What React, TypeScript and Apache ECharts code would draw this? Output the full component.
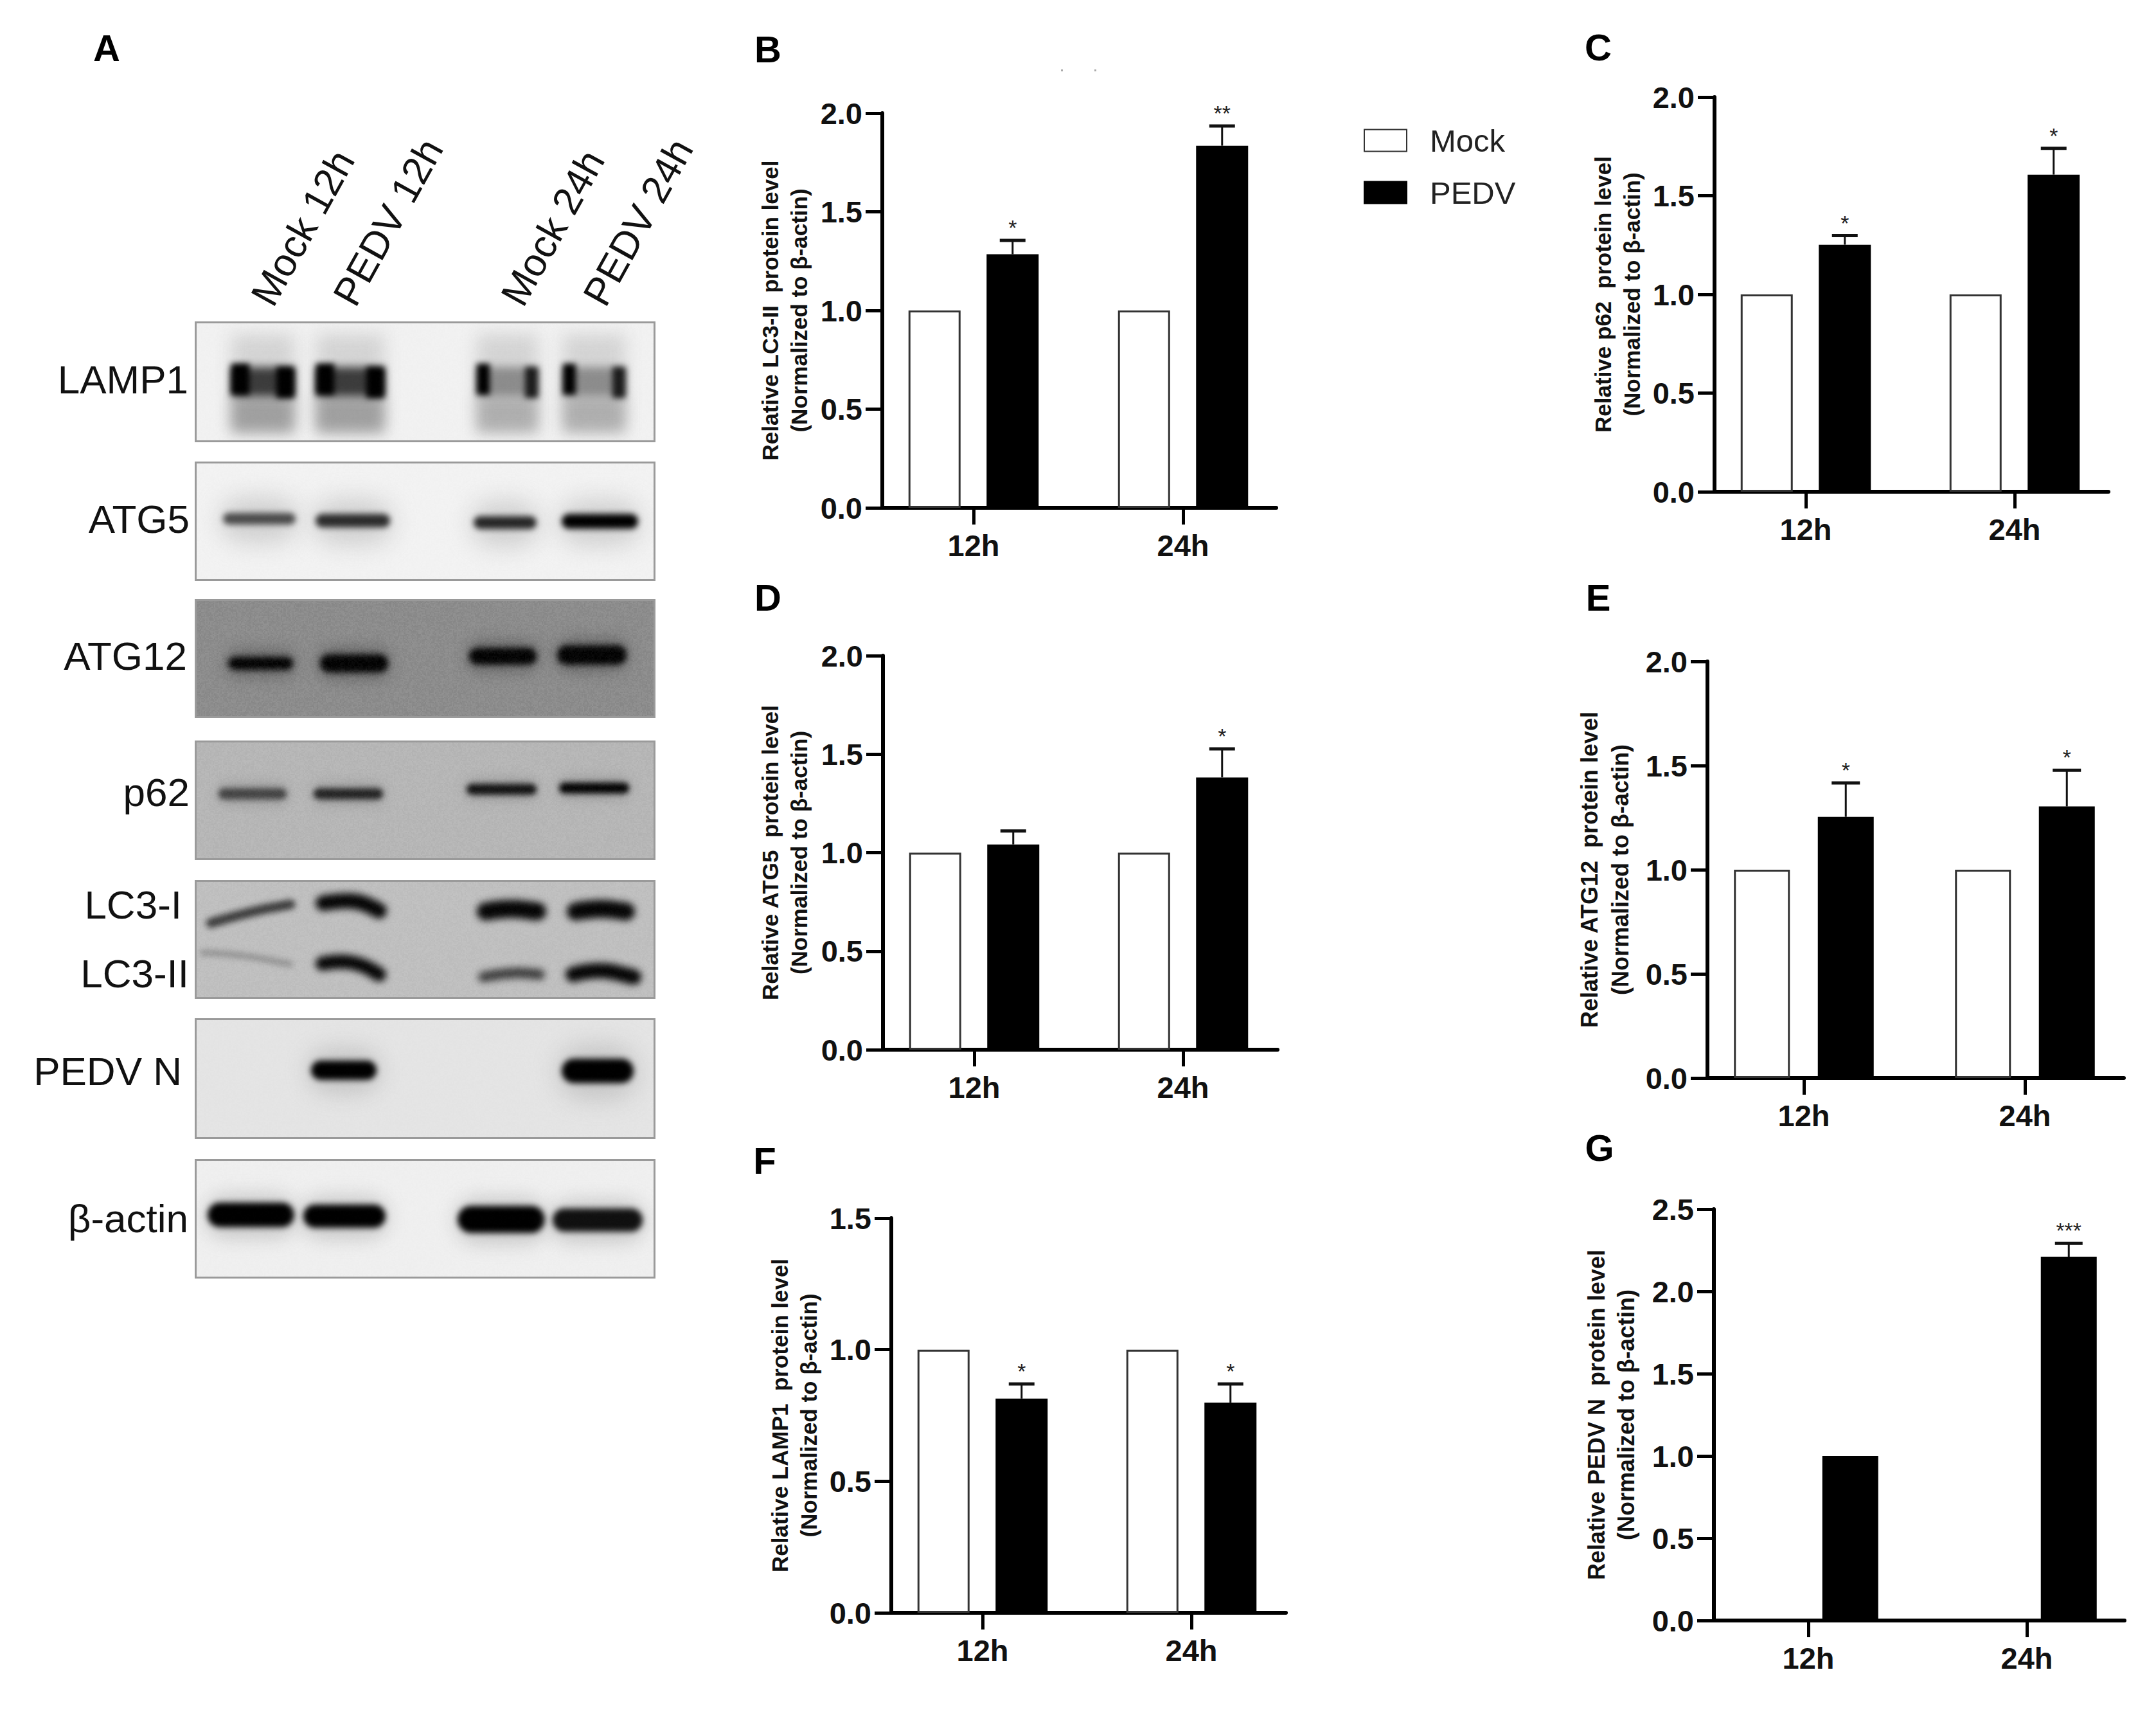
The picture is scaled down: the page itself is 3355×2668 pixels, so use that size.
import React, { useEffect, useRef } from "react";
import * as echarts from "echarts";

const FONT = '"Liberation Sans", Arial, sans-serif';
const categories = ["12h", "24h"];
const legendNames = ["Mock", "PEDV"];
const TITLE_LINE2 = "(Normalized to β-actin)";

// Panel values
const lc3Mock = [1, 1];
const lc3Pedv = [1.285, 1.835];
const lc3Err = [1.355, 1.935];
const lc3Sig = ["*", "**"];

const p62Mock = [1, 1];
const p62Pedv = [1.252, 1.607];
const p62Err = [1.298, 1.74];
const p62Sig = ["*", "*"];

const atg5Mock = [1, 1];
const atg5Pedv = [1.042, 1.382];
const atg5Err = [1.11, 1.527];
const atg5Sig = ["", "*"];

const atg12Mock = [1, 1];
const atg12Pedv = [1.254, 1.304];
const atg12Err = [1.417, 1.478];
const atg12Sig = ["*", "*"];

const lamp1Mock = [1, 1];
const lamp1Pedv = [0.814, 0.799];
const lamp1Err = [0.87, 0.87];
const lamp1Sig = ["*", "*"];

const pedvMock = [0, 0];
const pedvPedv = [1.0, 2.211];
const pedvErr = [1.0, 2.292];
const pedvSig = ["", "***"];

const blotLanes = ["Mock 12h", "PEDV 12h", "Mock 24h", "PEDV 24h"];
const blotLabels = ["LAMP1", "ATG5", "ATG12", "p62", "LC3-I", "LC3-II", "PEDV N", "β-actin"];

type Panel = {
  letter: string; lx: number; ly: number;
  title: string; mock: number[]; pedv: number[]; err: number[]; sig: string[]; ymax: number;
  ax: number; right: number; t1: number; t2: number; top: number; y0: number;
  bw: number; cap: number; gap: number; lh: number; fs: number;
};

const panels: Panel[] = [
  { letter: "B", lx: 1195, ly: 76, title: "Relative LC3-II  protein level", mock: lc3Mock, pedv: lc3Pedv, err: lc3Err, sig: lc3Sig, ymax: 2,
    ax: 1373, right: 1986, t1: 1515, t2: 1841, top: 176, y0: 790, bw: 81, cap: 40, gap: 107, lh: 45, fs: 35 },
  { letter: "C", lx: 2487, ly: 73, title: "Relative p62  protein level", mock: p62Mock, pedv: p62Pedv, err: p62Err, sig: p62Sig, ymax: 2,
    ax: 2668, right: 3281, t1: 2810, t2: 3135, top: 151, y0: 765, bw: 81, cap: 40, gap: 106, lh: 45, fs: 35 },
  { letter: "D", lx: 1195, ly: 929, title: "Relative ATG5  protein level", mock: atg5Mock, pedv: atg5Pedv, err: atg5Err, sig: atg5Sig, ymax: 2,
    ax: 1374, right: 1988, t1: 1516, t2: 1841, top: 1020, y0: 1633, bw: 81, cap: 40, gap: 108, lh: 45, fs: 35 },
  { letter: "E", lx: 2487, ly: 929, title: "Relative ATG12  protein level", mock: atg12Mock, pedv: atg12Pedv, err: atg12Err, sig: atg12Sig, ymax: 2,
    ax: 2657, right: 3305, t1: 2807, t2: 3151, top: 1029, y0: 1677, bw: 87, cap: 44, gap: 112, lh: 48, fs: 36 },
  { letter: "F", lx: 1190, ly: 1805, title: "Relative LAMP1  protein level", mock: lamp1Mock, pedv: lamp1Pedv, err: lamp1Err, sig: lamp1Sig, ymax: 1.5,
    ax: 1387, right: 2001, t1: 1529, t2: 1854, top: 1895, y0: 2509, bw: 81, cap: 40, gap: 106, lh: 45, fs: 35 },
  { letter: "G", lx: 2489, ly: 1785, title: "Relative PEDV N  protein level", mock: pedvMock, pedv: pedvPedv, err: pedvErr, sig: pedvSig, ymax: 2.5,
    ax: 2667, right: 3306, t1: 2814, t2: 3154, top: 1881, y0: 2521, bw: 87, cap: 43, gap: 114, lh: 46, fs: 36 },
];

// ---- western blot picture, painted once on a canvas and placed as an image ----
const BX = 303, BW = 717, BY = 498, BH = 1493;
const blots = [
  { top: 500, h: 188, bg: "#f1f1f1", grain: 2 },
  { top: 718, h: 186, bg: "#f2f2f2", grain: 2 },
  { top: 932, h: 185, bg: "#8c8c8c", grain: 12 },
  { top: 1152, h: 186, bg: "#b6b6b6", grain: 8 },
  { top: 1369, h: 185, bg: "#bfbfbf", grain: 7 },
  { top: 1584, h: 188, bg: "#e4e4e4", grain: 2 },
  { top: 1803, h: 186, bg: "#efefef", grain: 2 },
];

function paintBlots(): string {
  const cv = document.createElement("canvas");
  cv.width = BW;
  cv.height = BH;
  const ctx = cv.getContext("2d")!;
  ctx.fillStyle = "#fff";
  ctx.fillRect(0, 0, BW, BH);
  ctx.translate(-BX, -BY);

  const stroke = (pts: number[][], th: number, color: string, blur: number, alpha = 1, cap: CanvasLineCap = "round") => {
    ctx.save();
    ctx.filter = `blur(${blur}px)`;
    ctx.globalAlpha = alpha;
    ctx.strokeStyle = color;
    ctx.lineWidth = th;
    ctx.lineCap = cap;
    ctx.lineJoin = "round";
    ctx.beginPath();
    ctx.moveTo(pts[0][0], pts[0][1]);
    for (let i = 1; i < pts.length - 1; i++) {
      const mx = (pts[i][0] + pts[i + 1][0]) / 2;
      const my = (pts[i][1] + pts[i + 1][1]) / 2;
      ctx.quadraticCurveTo(pts[i][0], pts[i][1], mx, my);
    }
    const last = pts[pts.length - 1];
    ctx.lineTo(last[0], last[1]);
    ctx.stroke();
    ctx.restore();
  };
  const band = (a: number, b: number, y: number, h: number, color: string, blur: number, alpha = 1) =>
    stroke([[a, y], [b, y]], h, color, blur, alpha, "butt");
  const pill = (a: number, b: number, y: number, h: number, color: string, blur: number, alpha = 1) =>
    stroke([[a + h / 2, y], [b - h / 2, y]], h, color, blur, alpha);

  const inPanel = (i: number, fn: () => void) => {
    const p = blots[i];
    ctx.save();
    ctx.beginPath();
    ctx.rect(BX, p.top, BW, p.h);
    ctx.clip();
    ctx.fillStyle = p.bg;
    ctx.fillRect(BX, p.top, BW, p.h);
    fn();
    ctx.restore();
  };

  // LAMP1
  inPanel(0, () => {
    ([[360, 458, 0], [492, 598, 0], [742, 837, 1], [876, 973, 1]] as number[][]).forEach(([a, b, f]) => {
      band(a, b, 595, 150, "#c8c8c8", 13, 0.7);
      band(a, b, 645, 56, "#808080", 10, f ? 0.45 : 0.62);
      band(a, b, 594, 46, f ? "#8c8c8c" : "#3c3c3c", 7);
      const w = f ? 20 : 28;
      band(a, a + w, 590, 48, "#000", 5);
      band(b - w, b, 595, 48, f ? "#1c1c1c" : "#000", 5);
    });
  });
  // ATG5
  inPanel(1, () => {
    ([[347, 460, "#4a4a4a", 807, 18], [491, 607, "#2c2c2c", 810, 21], [737, 835, "#262626", 813, 20], [874, 993, "#000", 811, 23]] as any[]).forEach(
      ([a, b, c, y, h]) => {
        pill(a - 4, b + 4, y + 2, 70, "#bdbdbd", 18, 0.65);
        pill(a, b, y, h, c, 5);
      }
    );
  });
  // ATG12
  inPanel(2, () => {
    ([[355, 456, 1032, 20], [498, 604, 1032, 28], [730, 835, 1021, 26], [867, 975, 1019, 30]] as number[][]).forEach(([a, b, y, h]) => {
      pill(a - 4, b + 4, y, h + 22, "#4a4a4a", 11, 0.55);
      pill(a, b, y, h, "#050505", 5);
    });
  });
  // p62
  inPanel(3, () => {
    ([[340, 446, 1235, "#444"], [488, 596, 1235, "#242424"], [726, 835, 1228, "#141414"], [870, 979, 1226, "#040404"]] as any[]).forEach(
      ([a, b, y, c]) => {
        pill(a - 2, b + 2, y, 34, "#8a8a8a", 9, 0.55);
        pill(a, b, y, 17, c, 4);
      }
    );
  });
  // LC3-I and LC3-II
  inPanel(4, () => {
    stroke([[328, 1436], [390, 1418], [452, 1407]], 15, "#3c3c3c", 5);
    stroke([[503, 1405], [535, 1400], [565, 1404], [590, 1417]], 24, "#060606", 6);
    stroke([[756, 1418], [790, 1412], [836, 1418]], 28, "#060606", 6);
    stroke([[896, 1418], [930, 1412], [974, 1418]], 28, "#060606", 6);
    stroke([[315, 1482], [370, 1484], [452, 1500]], 9, "#8a8a8a", 5, 0.9);
    stroke([[502, 1499], [530, 1494], [565, 1501], [590, 1516]], 22, "#060606", 6);
    stroke([[752, 1520], [795, 1512], [840, 1516]], 16, "#3a3a3a", 6);
    stroke([[892, 1516], [930, 1506], [986, 1520]], 24, "#060606", 6);
  });
  // PEDV N
  inPanel(5, () => {
    pill(478, 592, 1666, 70, "#a8a8a8", 16, 0.5);
    pill(484, 586, 1665, 30, "#000", 5);
    pill(868, 992, 1668, 84, "#a8a8a8", 18, 0.5);
    pill(874, 986, 1666, 38, "#000", 5);
  });
  // β-actin
  inPanel(6, () => {
    ([[323, 458, 1890, 38, "#000"], [472, 600, 1892, 36, "#000"], [712, 848, 1897, 42, "#000"], [860, 1000, 1898, 36, "#101010"]] as any[]).forEach(
      ([a, b, y, h, c]) => {
        pill(a - 4, b + 4, y + 2, h + 30, "#9c9c9c", 14, 0.45);
        pill(a, b, y, h, c, 5);
      }
    );
  });

  // fine film grain, derived from a fixed hash, then panel borders
  ctx.setTransform(1, 0, 0, 1, 0, 0);
  const img = ctx.getImageData(0, 0, BW, BH);
  blots.forEach((p) => {
    for (let y = p.top - BY; y < p.top - BY + p.h; y++) {
      for (let x = 0; x < BW; x++) {
        const h = Math.sin(((x >> 1) * 12.9898 + (y >> 1) * 78.233) * 1.37) * 43758.5453;
        const n = (h - Math.floor(h) - 0.5) * p.grain;
        const k = (y * BW + x) * 4;
        for (let c = 0; c < 3; c++) img.data[k + c] = Math.max(0, Math.min(255, img.data[k + c] + n));
      }
    }
  });
  ctx.putImageData(img, 0, 0);
  ctx.strokeStyle = "#9a9a9a";
  ctx.lineWidth = 3;
  blots.forEach((p) => ctx.strokeRect(1.5, p.top - BY + 1.5, BW - 3, p.h - 3));
  return cv.toDataURL("image/png");
}

function textEl(text: string, x: number, y: number, size: number, weight: string, align: string, color = "#111", rotation = 0) {
  return {
    type: "text",
    x,
    y,
    rotation,
    silent: true,
    style: { text, x: 0, y: 0, fontFamily: FONT, fontSize: size, fontWeight: weight, textAlign: align, textVerticalAlign: "middle", fill: color },
  };
}

function labelElements(): any[] {
  const els: any[] = [];
  els.push(textEl("A", 166, 74, 58, "bold", "center", "#000"));
  panels.forEach((p) => els.push(textEl(p.letter, p.lx, p.ly, 58, "bold", "center", "#000")));
  const rot = (61 * Math.PI) / 180;
  const laneX = [407, 535, 796, 924];
  blotLanes.forEach((t, i) => els.push(textEl(t, laneX[i], 470, 61, "normal", "left", "#111", rot)));
  const labelRight = [293, 295, 291, 295, 283, 294, 283, 293];
  const labelY = [590, 807, 1020, 1232, 1407, 1514, 1666, 1895];
  blotLabels.forEach((t, i) => els.push(textEl(t, labelRight[i], labelY[i], 62, "normal", "right", "#111")));
  els.push({ type: "rect", shape: { x: 1651, y: 108, width: 3, height: 3 }, style: { fill: "#aaa" }, silent: true });
  els.push({ type: "rect", shape: { x: 1703, y: 108, width: 3, height: 3 }, style: { fill: "#aaa" }, silent: true });
  return els;
}

function buildOption() {
  const grid: any[] = [];
  const xAxis: any[] = [];
  const yAxis: any[] = [];
  const series: any[] = [];
  panels.forEach((p, i) => {
    const span = p.t2 - p.t1;
    grid.push({ left: p.ax, top: p.top, width: p.right - p.ax, height: p.y0 - p.top, containLabel: false });
    xAxis.push({
      type: "value",
      gridIndex: i,
      min: 1 - (p.t1 - p.ax) / span,
      max: 2 + (p.right - p.t2) / span,
      splitLine: { show: false },
      axisLine: { lineStyle: { color: "#000", width: 6 } },
      axisTick: { show: true, length: 26, customValues: [1, 2], lineStyle: { color: "#000", width: 5 } },
      axisLabel: {
        customValues: [1, 2],
        margin: 35,
        fontFamily: FONT,
        fontSize: 47,
        fontWeight: "bold",
        color: "#111",
        formatter: (v: number) => categories[Math.round(v) - 1] ?? "",
      },
    });
    yAxis.push({
      type: "value",
      gridIndex: i,
      min: 0,
      max: p.ymax,
      interval: 0.5,
      splitLine: { show: false },
      axisLine: { show: true, onZero: false, lineStyle: { color: "#000", width: 6 } },
      axisTick: { show: true, length: 26, lineStyle: { color: "#000", width: 5 } },
      axisLabel: { margin: 31, fontFamily: FONT, fontSize: 47, fontWeight: "bold", color: "#111", formatter: (v: number) => v.toFixed(1) },
      name: `${p.title}\n${TITLE_LINE2}`,
      nameLocation: "middle",
      nameRotate: 90,
      nameGap: p.gap,
      nameTextStyle: { fontFamily: FONT, fontSize: p.fs, fontWeight: "bold", color: "#111", lineHeight: p.lh, align: "center" },
    });
    series.push({
      name: "Mock",
      type: "bar",
      xAxisIndex: i,
      yAxisIndex: i,
      barWidth: p.bw,
      barGap: "50%",
      data: p.mock.map((v, k) => [k + 1, v]),
      itemStyle: { color: "#fff", borderColor: "#333", borderWidth: p.mock[0] > 0 ? 3 : 0 },
      emphasis: { disabled: true },
    });
    series.push({
      name: "PEDV",
      type: "bar",
      xAxisIndex: i,
      yAxisIndex: i,
      barWidth: p.bw,
      barGap: "50%",
      data: p.pedv.map((v, k) => [k + 1, v]),
      itemStyle: { color: "#000", borderColor: "#000", borderWidth: 2 },
      emphasis: { disabled: true },
    });
    series.push({
      type: "custom",
      name: "err" + p.letter,
      xAxisIndex: i,
      yAxisIndex: i,
      clip: false,
      silent: true,
      data: p.err.map((v, k) => [k + 1, p.pedv[k], v]),
      encode: { x: 0, y: [1, 2] },
      renderItem: (params: any, api: any) => {
        const k = params.dataIndex;
        const offset = p.bw * 0.75;
        const base = api.coord([api.value(0), api.value(1)]);
        const capPt = api.coord([api.value(0), api.value(2)]);
        const x = base[0] + offset;
        const children: any[] = [];
        if (api.value(2) > api.value(1)) {
          children.push({ type: "line", shape: { x1: x, y1: base[1], x2: x, y2: capPt[1] }, style: { stroke: "#111", lineWidth: 3 } });
          children.push({
            type: "line",
            shape: { x1: x - p.cap / 2, y1: capPt[1], x2: x + p.cap / 2, y2: capPt[1] },
            style: { stroke: "#111", lineWidth: 5 },
          });
        }
        if (p.sig[k]) {
          children.push({
            type: "text",
            style: { text: p.sig[k], x, y: capPt[1] - 3, fontFamily: FONT, fontSize: 34, textAlign: "center", textVerticalAlign: "bottom", fill: "#222" },
          });
        }
        return { type: "group", children };
      },
    });
  });
  return {
    animation: false,
    backgroundColor: "#fff",
    legend: {
      data: legendNames,
      orient: "vertical",
      left: 2122,
      top: 194,
      padding: 0,
      itemWidth: 66,
      itemHeight: 34,
      itemGap: 32,
      selectedMode: false,
      icon: "rect",
      textStyle: { fontFamily: FONT, fontSize: 49, color: "#222", padding: [0, 0, 4, 31] },
    },
    grid,
    xAxis,
    yAxis,
    series,
    graphic: {
      elements: [
        { type: "image", silent: true, style: { image: paintBlots(), x: BX, y: BY, width: BW, height: BH } },
        ...labelElements(),
      ],
    },
  };
}

export default function App() {
  const ref = useRef<HTMLDivElement>(null);
  useEffect(() => {
    const chart = echarts.init(ref.current!, undefined, { renderer: "svg" });
    chart.setOption(buildOption() as any);
    return () => chart.dispose();
  }, []);
  return <div ref={ref} style={{ position: "absolute", left: 0, top: 0, width: 3355, height: 2668 }} />;
}
